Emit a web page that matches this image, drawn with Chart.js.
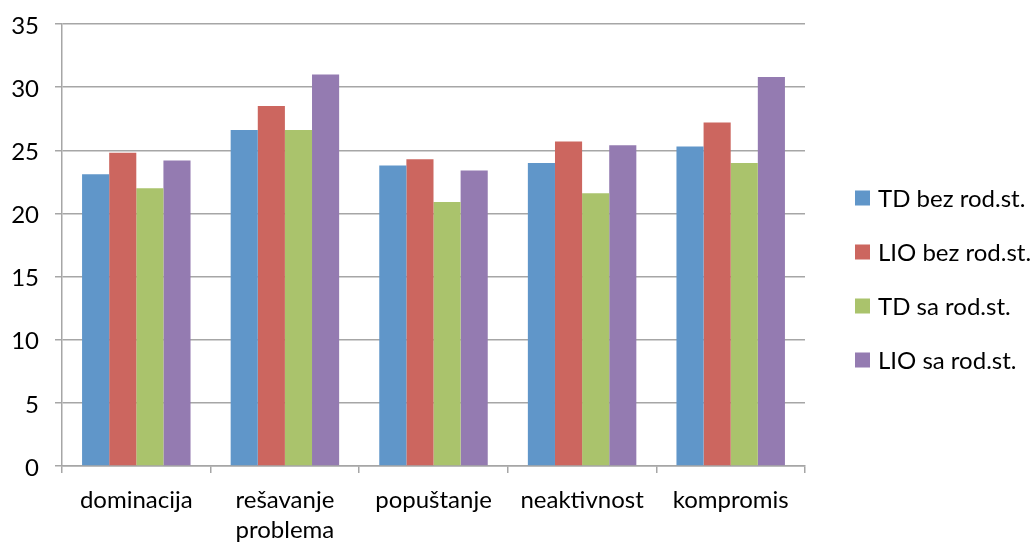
<!DOCTYPE html>
<html>
<head>
<meta charset="utf-8">
<script src="https://cdn.jsdelivr.net/npm/chart.js@4/dist/chart.umd.min.js"></script>
<style>
  html, body { margin: 0; padding: 0; background: #fff; }
  #wrap { width: 1033px; height: 544px; position: relative; }
</style>
</head>
<body>
<div id="wrap"><canvas id="c" width="1033" height="544"></canvas></div>
<script>
// Conflict-style scores per group
const categories = ['dominacija', ['rešavanje', 'problema'], 'popuštanje', 'neaktivnost', 'kompromis'];
const tdBez  = [23.1, 26.6, 23.8, 24.0, 25.3];
const lioBez = [24.8, 28.5, 24.3, 25.7, 27.2];
const tdSa   = [22.0, 26.6, 20.9, 21.6, 24.0];
const lioSa  = [24.2, 31.0, 23.4, 25.4, 30.8];
const seriesNames = ['TD bez rod.st.', 'LIO bez rod.st.', 'TD sa rod.st.', 'LIO sa rod.st.'];
const seriesColors = ['#6096C9', '#CC665F', '#AAC36C', '#947BB1'];
const yTicks = { min: 0, max: 35, step: 5 };

const FONT = 'Lato, "Open Sans", sans-serif';
const gridColor = '#A6A6A6';

// Legend drawn at the right of the plot
const sideLegend = {
  id: 'sideLegend',
  afterDraw(chart) {
    const ctx = chart.ctx;
    const x0 = 855, y0 = 198, gap = 54, box = 15;
    ctx.save();
    ctx.font = '24px ' + FONT;
    ctx.textBaseline = 'middle';
    chart.data.datasets.forEach((ds, i) => {
      const y = y0 + i * gap;
      ctx.fillStyle = ds.backgroundColor;
      ctx.fillRect(x0, y - box / 2, box, box);
      ctx.fillStyle = '#000';
      ctx.fillText(ds.label, x0 + box + 8, y + 1);
    });
    ctx.restore();
  }
};

const seriesData = [tdBez, lioBez, tdSa, lioSa];

new Chart(document.getElementById('c'), {
  type: 'bar',
  data: {
    labels: categories,
    datasets: seriesData.map((d, i) => ({
      label: seriesNames[i],
      data: d,
      backgroundColor: seriesColors[i],
      borderWidth: 0,
      categoryPercentage: 0.73,
      barPercentage: 1.0
    }))
  },
  options: {
    responsive: false,
    animation: false,
    layout: { padding: { top: 24, right: 228, left: 0, bottom: 0 } },
    plugins: { legend: { display: false }, tooltip: { enabled: false } },
    scales: {
      x: {
        grid: { drawOnChartArea: false, drawTicks: true, tickLength: 7, color: gridColor, lineWidth: 1.5, offset: true },
        border: { display: true, color: gridColor, width: 1.5 },
        ticks: { font: { family: FONT, size: 24, lineHeight: 1.25 }, color: '#000', padding: 12, maxRotation: 0, autoSkip: false },
        afterFit(s) { s.height = 78; s.paddingLeft = 0; s.paddingRight = 0; }
      },
      y: {
        min: yTicks.min,
        max: yTicks.max,
        grid: { color: gridColor, lineWidth: 1.5, tickLength: 7, drawTicks: true },
        border: { display: true, color: gridColor, width: 1.5 },
        ticks: { stepSize: yTicks.step, font: { family: FONT, size: 24 }, color: '#000', padding: 16, labelOffset: 2 },
        afterFit(s) { s.width = 62; s.paddingTop = 0; s.paddingBottom = 0; }
      }
    }
  },
  plugins: [sideLegend]
});
</script>
</body>
</html>
